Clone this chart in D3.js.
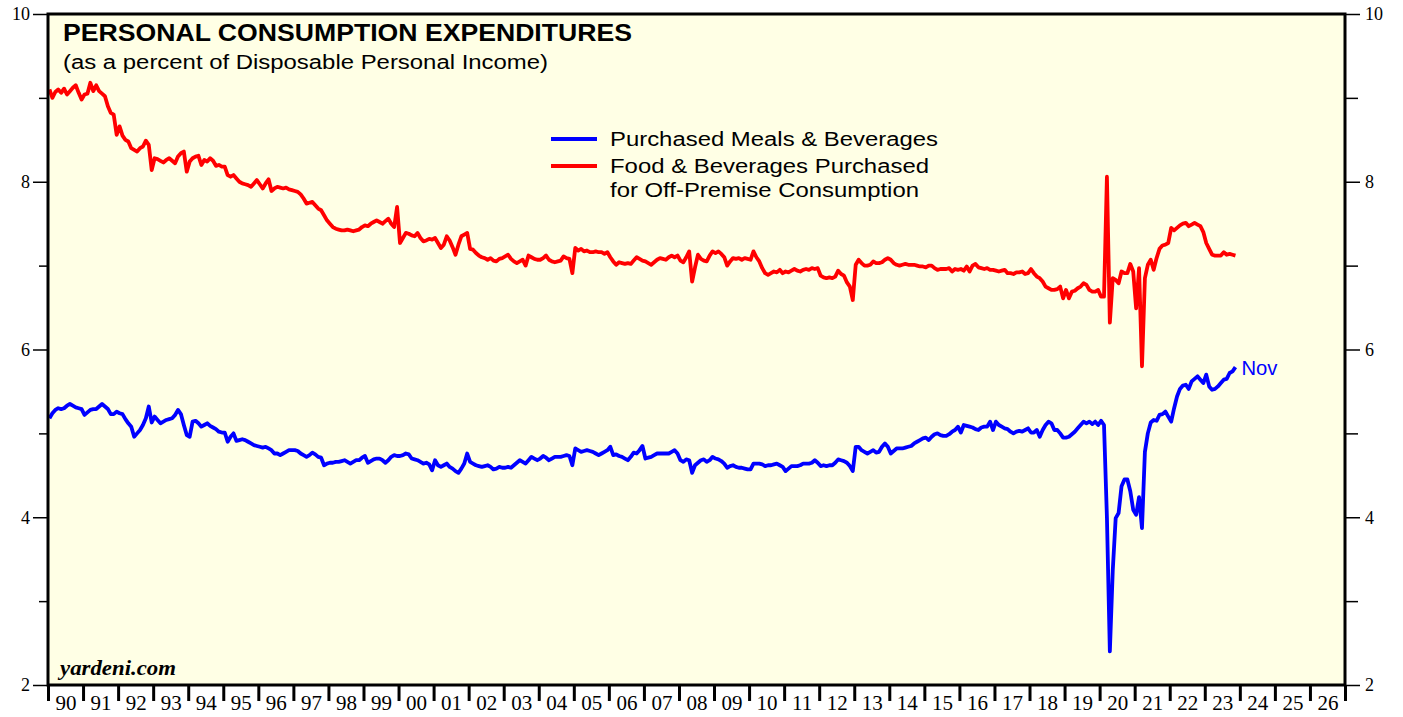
<!DOCTYPE html>
<html>
<head>
<meta charset="utf-8">
<script src="https://cdn.jsdelivr.net/npm/d3@7"></script>
<style>
  body { margin: 0; background: #ffffff; }
  svg { display: block; }
</style>
</head>
<body>
<div id="plot"></div>
<script>
// monthly data, Jan 1990 .. Nov 2023
var startYear = 1990;

// Purchased Meals & Beverages (% of disposable personal income)
var mealsValues = [
  5.18, 5.24, 5.28, 5.30, 5.29, 5.30, 5.33, 5.35, 5.33, 5.31, 5.30, 5.29, // 1990
  5.22, 5.25, 5.28, 5.29, 5.29, 5.32, 5.35, 5.32, 5.29, 5.23, 5.23, 5.26, // 1991
  5.24, 5.23, 5.17, 5.12, 5.08, 4.96, 5.00, 5.04, 5.10, 5.18, 5.32, 5.13, // 1992
  5.20, 5.16, 5.12, 5.14, 5.16, 5.17, 5.18, 5.22, 5.28, 5.23, 5.10, 4.98, // 1993
  4.96, 5.14, 5.15, 5.12, 5.08, 5.10, 5.12, 5.09, 5.07, 5.05, 5.02, 5.01, // 1994
  5.01, 4.90, 4.96, 5.00, 4.91, 4.92, 4.93, 4.92, 4.90, 4.88, 4.86, 4.85, // 1995
  4.84, 4.83, 4.84, 4.82, 4.80, 4.76, 4.76, 4.74, 4.76, 4.78, 4.80, 4.80, // 1996
  4.80, 4.79, 4.76, 4.74, 4.72, 4.74, 4.77, 4.75, 4.72, 4.71, 4.62, 4.64, // 1997
  4.65, 4.65, 4.66, 4.66, 4.67, 4.68, 4.66, 4.64, 4.66, 4.68, 4.68, 4.71, // 1998
  4.73, 4.65, 4.67, 4.69, 4.70, 4.70, 4.68, 4.65, 4.68, 4.72, 4.74, 4.73, // 1999
  4.73, 4.74, 4.76, 4.75, 4.70, 4.69, 4.68, 4.66, 4.64, 4.65, 4.63, 4.56, // 2000
  4.68, 4.62, 4.60, 4.62, 4.64, 4.60, 4.58, 4.55, 4.53, 4.58, 4.64, 4.76, // 2001
  4.66, 4.64, 4.62, 4.61, 4.60, 4.61, 4.62, 4.60, 4.57, 4.58, 4.60, 4.59, // 2002
  4.59, 4.60, 4.59, 4.62, 4.65, 4.68, 4.66, 4.64, 4.68, 4.72, 4.70, 4.68, // 2003
  4.70, 4.73, 4.71, 4.68, 4.70, 4.72, 4.72, 4.72, 4.73, 4.74, 4.73, 4.62, // 2004
  4.82, 4.80, 4.78, 4.79, 4.80, 4.79, 4.78, 4.76, 4.74, 4.76, 4.78, 4.80, // 2005
  4.84, 4.74, 4.75, 4.73, 4.72, 4.70, 4.68, 4.72, 4.77, 4.76, 4.80, 4.85, // 2006
  4.70, 4.71, 4.72, 4.74, 4.76, 4.76, 4.76, 4.76, 4.76, 4.78, 4.80, 4.76, // 2007
  4.68, 4.66, 4.69, 4.68, 4.53, 4.62, 4.65, 4.68, 4.69, 4.66, 4.68, 4.72, // 2008
  4.70, 4.69, 4.67, 4.64, 4.59, 4.61, 4.62, 4.60, 4.59, 4.59, 4.58, 4.57, // 2009
  4.57, 4.64, 4.64, 4.64, 4.63, 4.61, 4.62, 4.62, 4.63, 4.64, 4.62, 4.60, // 2010
  4.55, 4.58, 4.61, 4.61, 4.61, 4.62, 4.64, 4.64, 4.64, 4.65, 4.68, 4.65, // 2011
  4.61, 4.62, 4.61, 4.62, 4.62, 4.65, 4.69, 4.68, 4.67, 4.65, 4.61, 4.55, // 2012
  4.84, 4.84, 4.80, 4.78, 4.76, 4.78, 4.80, 4.77, 4.78, 4.84, 4.88, 4.84, // 2013
  4.76, 4.79, 4.82, 4.82, 4.82, 4.83, 4.84, 4.85, 4.88, 4.90, 4.92, 4.94, // 2014
  4.95, 4.92, 4.96, 4.99, 5.00, 4.98, 4.97, 4.97, 4.99, 5.02, 5.04, 5.08, // 2015
  5.01, 5.10, 5.09, 5.08, 5.07, 5.05, 5.04, 5.07, 5.08, 5.08, 5.14, 5.04, // 2016
  5.14, 5.10, 5.08, 5.06, 5.05, 5.02, 5.00, 5.02, 5.03, 5.02, 5.04, 5.06, // 2017
  5.01, 5.01, 5.04, 4.96, 5.04, 5.10, 5.14, 5.12, 5.04, 5.04, 5.00, 4.95, // 2018
  4.95, 4.96, 4.99, 5.02, 5.06, 5.10, 5.14, 5.12, 5.14, 5.11, 5.14, 5.10, // 2019
  5.15, 5.10, 4.00, 2.40, 3.37, 3.99, 4.05, 4.37, 4.45, 4.45, 4.31, 4.09, // 2020
  4.03, 4.24, 3.87, 4.78, 5.00, 5.13, 5.16, 5.15, 5.22, 5.23, 5.26, 5.20, // 2021
  5.14, 5.30, 5.44, 5.53, 5.57, 5.58, 5.53, 5.62, 5.65, 5.68, 5.64, 5.60, // 2022
  5.70, 5.56, 5.52, 5.53, 5.56, 5.60, 5.64, 5.65, 5.72, 5.74, 5.79        // 2023
];

// Food & Beverages Purchased for Off-Premise Consumption
var foodValues = [
  9.10, 9.00, 9.07, 9.10, 9.06, 9.11, 9.04, 9.08, 9.12, 9.15, 9.06, 8.98, // 1990
  9.04, 9.05, 9.18, 9.08, 9.15, 9.08, 9.05, 9.02, 8.90, 8.82, 8.80, 8.56, // 1991
  8.66, 8.55, 8.50, 8.48, 8.40, 8.38, 8.36, 8.40, 8.42, 8.49, 8.44, 8.14, // 1992
  8.28, 8.27, 8.25, 8.23, 8.26, 8.28, 8.25, 8.22, 8.30, 8.34, 8.36, 8.12, // 1993
  8.24, 8.28, 8.30, 8.31, 8.20, 8.26, 8.24, 8.28, 8.25, 8.19, 8.20, 8.18, // 1994
  8.18, 8.08, 8.06, 8.08, 8.04, 8.00, 7.98, 7.97, 7.96, 7.94, 7.98, 8.02, // 1995
  7.97, 7.92, 7.98, 8.03, 7.89, 7.92, 7.94, 7.93, 7.92, 7.93, 7.91, 7.90, // 1996
  7.89, 7.88, 7.85, 7.80, 7.74, 7.75, 7.76, 7.72, 7.68, 7.66, 7.60, 7.54, // 1997
  7.50, 7.46, 7.44, 7.43, 7.42, 7.42, 7.43, 7.42, 7.41, 7.42, 7.43, 7.46, // 1998
  7.48, 7.47, 7.50, 7.52, 7.54, 7.52, 7.50, 7.53, 7.56, 7.50, 7.46, 7.70, // 1999
  7.27, 7.33, 7.39, 7.38, 7.36, 7.35, 7.39, 7.33, 7.29, 7.30, 7.32, 7.31, // 2000
  7.33, 7.27, 7.21, 7.25, 7.35, 7.30, 7.22, 7.13, 7.25, 7.35, 7.37, 7.39, // 2001
  7.20, 7.19, 7.15, 7.12, 7.10, 7.09, 7.07, 7.09, 7.06, 7.05, 7.08, 7.09, // 2002
  7.11, 7.13, 7.08, 7.05, 7.03, 7.05, 7.07, 7.00, 7.12, 7.10, 7.08, 7.07, // 2003
  7.07, 7.09, 7.12, 7.07, 7.05, 7.04, 7.05, 7.06, 7.11, 7.09, 7.08, 6.91, // 2004
  7.21, 7.18, 7.20, 7.17, 7.18, 7.16, 7.16, 7.17, 7.16, 7.16, 7.14, 7.16, // 2005
  7.10, 7.05, 7.01, 7.04, 7.03, 7.02, 7.03, 7.02, 7.06, 7.10, 7.08, 7.06, // 2006
  7.05, 7.03, 7.01, 7.04, 7.07, 7.09, 7.08, 7.07, 7.10, 7.12, 7.10, 7.12, // 2007
  7.06, 7.04, 7.10, 7.17, 6.81, 6.98, 7.13, 7.08, 7.06, 7.05, 7.12, 7.17, // 2008
  7.15, 7.17, 7.14, 7.10, 7.00, 7.05, 7.09, 7.08, 7.09, 7.07, 7.09, 7.08, // 2009
  7.07, 7.17, 7.10, 7.05, 6.97, 6.91, 6.89, 6.91, 6.93, 6.92, 6.95, 6.91, // 2010
  6.93, 6.92, 6.94, 6.96, 6.94, 6.93, 6.95, 6.96, 6.95, 6.97, 6.96, 6.97, // 2011
  6.88, 6.86, 6.85, 6.86, 6.85, 6.87, 6.94, 6.90, 6.88, 6.80, 6.75, 6.59, // 2012
  7.01, 7.07, 7.03, 7.00, 7.00, 7.01, 7.05, 7.03, 7.03, 7.04, 7.07, 7.09, // 2013
  7.07, 7.03, 7.01, 7.00, 7.01, 7.02, 7.01, 7.01, 7.01, 7.00, 6.99, 6.99, // 2014
  6.98, 7.00, 7.00, 6.97, 6.95, 6.96, 6.96, 6.96, 6.97, 6.93, 6.96, 6.95, // 2015
  6.96, 6.94, 6.99, 6.93, 7.00, 7.02, 6.98, 6.97, 6.96, 6.97, 6.95, 6.95, // 2016
  6.94, 6.93, 6.94, 6.95, 6.91, 6.91, 6.90, 6.92, 6.92, 6.93, 6.90, 6.91, // 2017
  6.96, 6.91, 6.87, 6.85, 6.81, 6.75, 6.73, 6.71, 6.71, 6.72, 6.75, 6.61, // 2018
  6.71, 6.61, 6.69, 6.70, 6.73, 6.75, 6.79, 6.77, 6.71, 6.69, 6.69, 6.71, // 2019
  6.63, 6.63, 8.06, 6.32, 6.85, 6.83, 6.79, 6.93, 6.91, 6.91, 7.02, 6.93, // 2020
  6.49, 6.97, 5.80, 6.85, 7.01, 7.07, 6.95, 7.09, 7.20, 7.24, 7.25, 7.27, // 2021
  7.45, 7.42, 7.45, 7.48, 7.50, 7.51, 7.47, 7.49, 7.51, 7.49, 7.47, 7.40, // 2022
  7.27, 7.20, 7.13, 7.12, 7.12, 7.12, 7.16, 7.13, 7.14, 7.13, 7.12        // 2023
];

var yMajorTicks = [2, 4, 6, 8, 10];
var yMinorTicks = [3, 5, 7, 9];
var xYears = d3.range(1990, 2028);
var legendLabels = [
  ["Purchased Meals & Beverages"],
  ["Food & Beverages Purchased", "for Off-Premise Consumption"]
];

var W = 1403, H = 717;
var margin = {left: 48, top: 14, right: 58, bottom: 32};
var plotW = W - margin.left - margin.right;
var plotH = H - margin.top - margin.bottom;

var svg = d3.select("#plot").append("svg")
  .attr("width", W).attr("height", H);

var x = d3.scaleLinear().domain([1990, 2027]).range([margin.left, margin.left + plotW]);
var y = d3.scaleLinear().domain([2, 10]).range([margin.top + plotH, margin.top]);

// background
svg.append("rect")
  .attr("x", margin.left).attr("y", margin.top)
  .attr("width", plotW).attr("height", plotH)
  .attr("fill", "#ffffe5");

function toPoints(values) {
  return values.map(function(v, i) {
    return {t: startYear + (i + 0.5) / 12, v: v};
  });
}

var line = d3.line()
  .x(function(d) { return x(d.t); })
  .y(function(d) { return y(d.v); });

svg.append("clipPath").attr("id", "clip")
  .append("rect")
  .attr("x", margin.left).attr("y", margin.top)
  .attr("width", plotW).attr("height", plotH);

var lines = svg.append("g").attr("clip-path", "url(#clip)");
lines.append("path")
  .datum(toPoints(foodValues))
  .attr("d", line)
  .attr("fill", "none")
  .attr("stroke", "#ff0000")
  .attr("stroke-width", 3.8)
  .attr("stroke-linejoin", "round");

lines.append("path")
  .datum(toPoints(mealsValues))
  .attr("d", line)
  .attr("fill", "none")
  .attr("stroke", "#0000ff")
  .attr("stroke-width", 3.8)
  .attr("stroke-linejoin", "round");

// ---------------------------//
//       AXES                 //
// ---------------------------//

var serif = "'Liberation Serif', 'Times New Roman', serif";
var sans = "'Liberation Sans', Arial, sans-serif";

function styleAxis(g, fontSize) {
  g.select(".domain").remove();
  g.selectAll("line").attr("stroke", "#000").attr("stroke-width", 1.5);
  g.selectAll("text")
    .attr("fill", "#000")
    .style("font-family", serif)
    .style("font-size", fontSize + "px");
}

svg.append("g")
  .attr("transform", "translate(" + (margin.left - 1) + ",0)")
  .call(d3.axisLeft(y).tickValues(yMajorTicks).tickSize(14).tickPadding(3).tickFormat(d3.format("d")))
  .call(styleAxis, 18);
svg.append("g")
  .attr("transform", "translate(" + (margin.left - 1) + ",0)")
  .call(d3.axisLeft(y).tickValues(yMinorTicks).tickSize(8).tickFormat(""))
  .call(styleAxis, 18);

svg.append("g")
  .attr("transform", "translate(" + (margin.left + plotW + 1) + ",0)")
  .call(d3.axisRight(y).tickValues(yMajorTicks).tickSize(14).tickPadding(5).tickFormat(d3.format("d")))
  .call(styleAxis, 18);
svg.append("g")
  .attr("transform", "translate(" + (margin.left + plotW + 1) + ",0)")
  .call(d3.axisRight(y).tickValues(yMinorTicks).tickSize(12).tickFormat(""))
  .call(styleAxis, 18);

// year ticks
svg.append("g")
  .attr("transform", "translate(0," + (margin.top + plotH + 1) + ")")
  .call(d3.axisBottom(x).tickValues(xYears).tickSize(15).tickFormat(""))
  .call(styleAxis, 21)
  .selectAll("line").attr("stroke-width", 3);

// year labels centred in each year
svg.append("g")
  .attr("transform", "translate(0," + (margin.top + plotH + 1) + ")")
  .call(d3.axisBottom(x).tickValues(xYears.slice(0, -1).map(function(d) { return d + 0.5; }))
    .tickSize(0).tickPadding(9)
    .tickFormat(function(d) { return d3.format("02d")(Math.floor(d) % 100); }))
  .call(styleAxis, 21);

// frame
svg.append("rect")
  .attr("x", margin.left).attr("y", margin.top)
  .attr("width", plotW).attr("height", plotH)
  .attr("fill", "none")
  .attr("stroke", "#000")
  .attr("stroke-width", 3);

// ---------------------------//
//       TEXT                 //
// ---------------------------//

svg.append("text")
  .attr("x", 63).attr("y", 41)
  .attr("textLength", 569).attr("lengthAdjust", "spacingAndGlyphs")
  .style("font-family", sans).style("font-weight", "bold").style("font-size", "23px")
  .text("PERSONAL CONSUMPTION EXPENDITURES");

svg.append("text")
  .attr("x", 63).attr("y", 69)
  .attr("textLength", 485).attr("lengthAdjust", "spacingAndGlyphs")
  .style("font-family", sans).style("font-size", "20px")
  .text("(as a percent of Disposable Personal Income)");

svg.append("text")
  .attr("x", 60).attr("y", 675)
  .attr("textLength", 116).attr("lengthAdjust", "spacingAndGlyphs")
  .style("font-family", serif).style("font-weight", "bold").style("font-style", "italic")
  .style("font-size", "20px")
  .text("yardeni.com");

// legend
var legendColors = ["#0000ff", "#ff0000"];
var legendY = [139, 166];
var legendWidths = [[328], [319, 309]];
legendLabels.forEach(function(lbl, i) {
  svg.append("line")
    .attr("x1", 551).attr("x2", 597)
    .attr("y1", legendY[i]).attr("y2", legendY[i])
    .attr("stroke", legendColors[i]).attr("stroke-width", 3.8);
  lbl.forEach(function(t, j) {
    svg.append("text")
      .attr("x", 610).attr("y", legendY[i] + 7 + j * 24)
      .attr("textLength", legendWidths[i][j]).attr("lengthAdjust", "spacingAndGlyphs")
      .style("font-family", sans).style("font-size", "20px")
      .text(t);
  });
});

// last point label
var lastMeals = toPoints(mealsValues).pop();
svg.append("text")
  .attr("x", x(lastMeals.t) + 6).attr("y", y(lastMeals.v) + 8)
  .attr("textLength", 36).attr("lengthAdjust", "spacingAndGlyphs")
  .attr("fill", "#0000ff")
  .style("font-family", sans).style("font-size", "20px")
  .text("Nov");
</script>
</body>
</html>
